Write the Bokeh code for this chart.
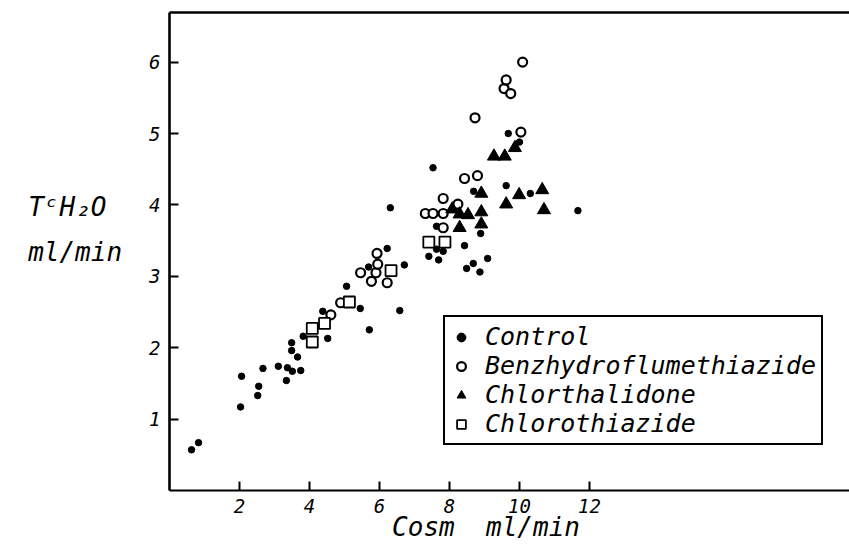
from bokeh.plotting import figure
from bokeh.models import Range1d, FixedTicker, LinearAxis, Legend, LegendItem
from bokeh.embed import file_html
from bokeh.resources import INLINE

# ---- data ----
ctrl_x = [0.63, 0.83, 2.03, 2.06, 2.52, 2.55, 2.67, 3.11, 3.34, 3.37, 3.51, 3.75, 3.66, 3.49, 3.49,
          3.82, 4.38, 4.52, 5.06, 5.45, 5.71, 6.58, 5.69, 6.22, 6.71, 6.31, 7.63, 7.41, 7.69, 7.82,
          7.63, 8.69, 8.89, 8.43, 8.68, 8.49, 8.87, 9.09, 7.53, 9.68, 10.0, 9.62, 10.31, 11.67]
ctrl_y = [0.57, 0.67, 1.17, 1.60, 1.33, 1.46, 1.71, 1.74, 1.54, 1.72, 1.67, 1.68, 1.87, 1.96, 2.07,
          2.16, 2.51, 2.13, 2.86, 2.55, 2.25, 2.52, 3.13, 3.39, 3.16, 3.96, 3.38, 3.28, 3.23, 3.35,
          3.70, 4.19, 3.60, 3.43, 3.18, 3.11, 3.06, 3.25, 4.52, 5.00, 4.88, 4.27, 4.16, 3.92]

benz_x = [4.61, 4.89, 5.46, 5.77, 5.90, 5.95, 6.22, 5.93, 7.31, 7.53, 7.82, 7.82, 7.82, 8.24,
          8.43, 8.80, 8.73, 10.04, 9.56, 9.62, 9.75, 10.09]
benz_y = [2.46, 2.63, 3.05, 2.93, 3.05, 3.17, 2.91, 3.32, 3.88, 3.88, 4.09, 3.88, 3.68, 4.01,
          4.37, 4.41, 5.22, 5.02, 5.63, 5.75, 5.56, 6.00]

chlt_x = [8.08, 8.29, 8.53, 8.29, 8.91, 8.91, 8.91, 9.27, 9.58, 9.87, 9.62, 9.99, 10.65, 10.70]
chlt_y = [3.94, 3.87, 3.86, 3.68, 3.90, 3.73, 4.16, 4.68, 4.68, 4.80, 4.01, 4.14, 4.21, 3.93]

chlz_x = [4.08, 4.08, 4.43, 5.14, 6.33, 7.41, 7.87]
chlz_y = [2.27, 2.08, 2.34, 2.64, 3.08, 3.48, 3.48]

x_ticks = [2, 4, 6, 8, 10, 12]
y_ticks = [1, 2, 3, 4, 5, 6]
series_names = ["Control", "Benzhydroflumethiazide", "Chlorthalidone", "Chlorothiazide"]
NB = "\u00a0"
x_title = "Cosm" + NB + NB + "ml/min" + NB * 3
y_title = "T\u1d9cH\u2082O" + NB + "\nml/min\n" + NB

FONT = "DejaVu Sans Mono"

p = figure(width=849, height=544, output_backend="svg", toolbar_location=None,
           x_range=Range1d(0, 19.43), y_range=Range1d(0, 6.695),
           min_border_left=169, min_border_right=0, min_border_top=12, min_border_bottom=54)
p.outline_line_color = None
p.grid.visible = False
p.background_fill_color = "white"
p.border_fill_color = "white"

for ax, ticks in ((p.xaxis[0], x_ticks), (p.yaxis[0], y_ticks)):
    ax.ticker = FixedTicker(ticks=ticks)
    ax.major_tick_in = 9
    ax.major_tick_out = 0
    ax.minor_tick_line_color = None
    ax.major_tick_line_width = 2
    ax.major_tick_line_color = "black"
    ax.axis_line_color = "black"
    ax.major_label_text_font = FONT
    ax.major_label_text_font_style = "italic"
    ax.major_label_text_font_size = "19px"
    ax.major_label_text_color = "black"
    ax.axis_label_text_font = FONT
    ax.axis_label_text_font_style = "italic"
    ax.axis_label_text_color = "black"
p.xaxis.axis_line_width = 2
p.yaxis.axis_line_width = 2.6
p.xaxis.major_label_standoff = 8
p.yaxis.major_label_standoff = 9

p.xaxis.axis_label = x_title
p.xaxis.axis_label_text_font_size = "26px"
p.xaxis.axis_label_standoff = -4

p.yaxis.axis_label = y_title
p.yaxis.axis_label_orientation = "horizontal"
p.yaxis.axis_label_text_font_size = "26px"
p.yaxis.axis_label_text_line_height = 1.5
p.yaxis.axis_label_standoff = 24

top = LinearAxis(ticker=FixedTicker(ticks=[]), axis_line_width=2.5, axis_line_color="black",
                 major_label_text_font_size="0px", major_tick_out=0, major_tick_in=0,
                 minor_tick_out=0, minor_tick_in=0, major_label_standoff=0)
p.add_layout(top, "above")

r_ctrl = p.scatter(ctrl_x, ctrl_y, marker="circle", size=6.5, color="black")
r_benz = p.scatter(benz_x, benz_y, marker="circle", size=9, fill_color="white",
                   line_color="black", line_width=2.2)
r_chlz = p.scatter(chlz_x, chlz_y, marker="square", size=11, fill_color="white",
                   line_color="black", line_width=1.8)
r_chlt = p.scatter(chlt_x, chlt_y, marker="triangle", size=13, color="black")

legend = Legend(items=[LegendItem(label=series_names[0], renderers=[r_ctrl]),
                       LegendItem(label=series_names[1], renderers=[r_benz]),
                       LegendItem(label=series_names[2], renderers=[r_chlt]),
                       LegendItem(label=series_names[3], renderers=[r_chlz])],
                location=(274, 45), orientation="vertical",
                border_line_color="black", border_line_width=2, border_line_alpha=1,
                background_fill_color="white", background_fill_alpha=1,
                label_text_font=FONT, label_text_font_style="italic",
                label_text_font_size="25px", label_text_color="black",
                padding=5, spacing=0, margin=0, label_standoff=13,
                glyph_width=22, glyph_height=28, label_height=28)
p.add_layout(legend)

open("out.html", "w").write(file_html(p, INLINE))
